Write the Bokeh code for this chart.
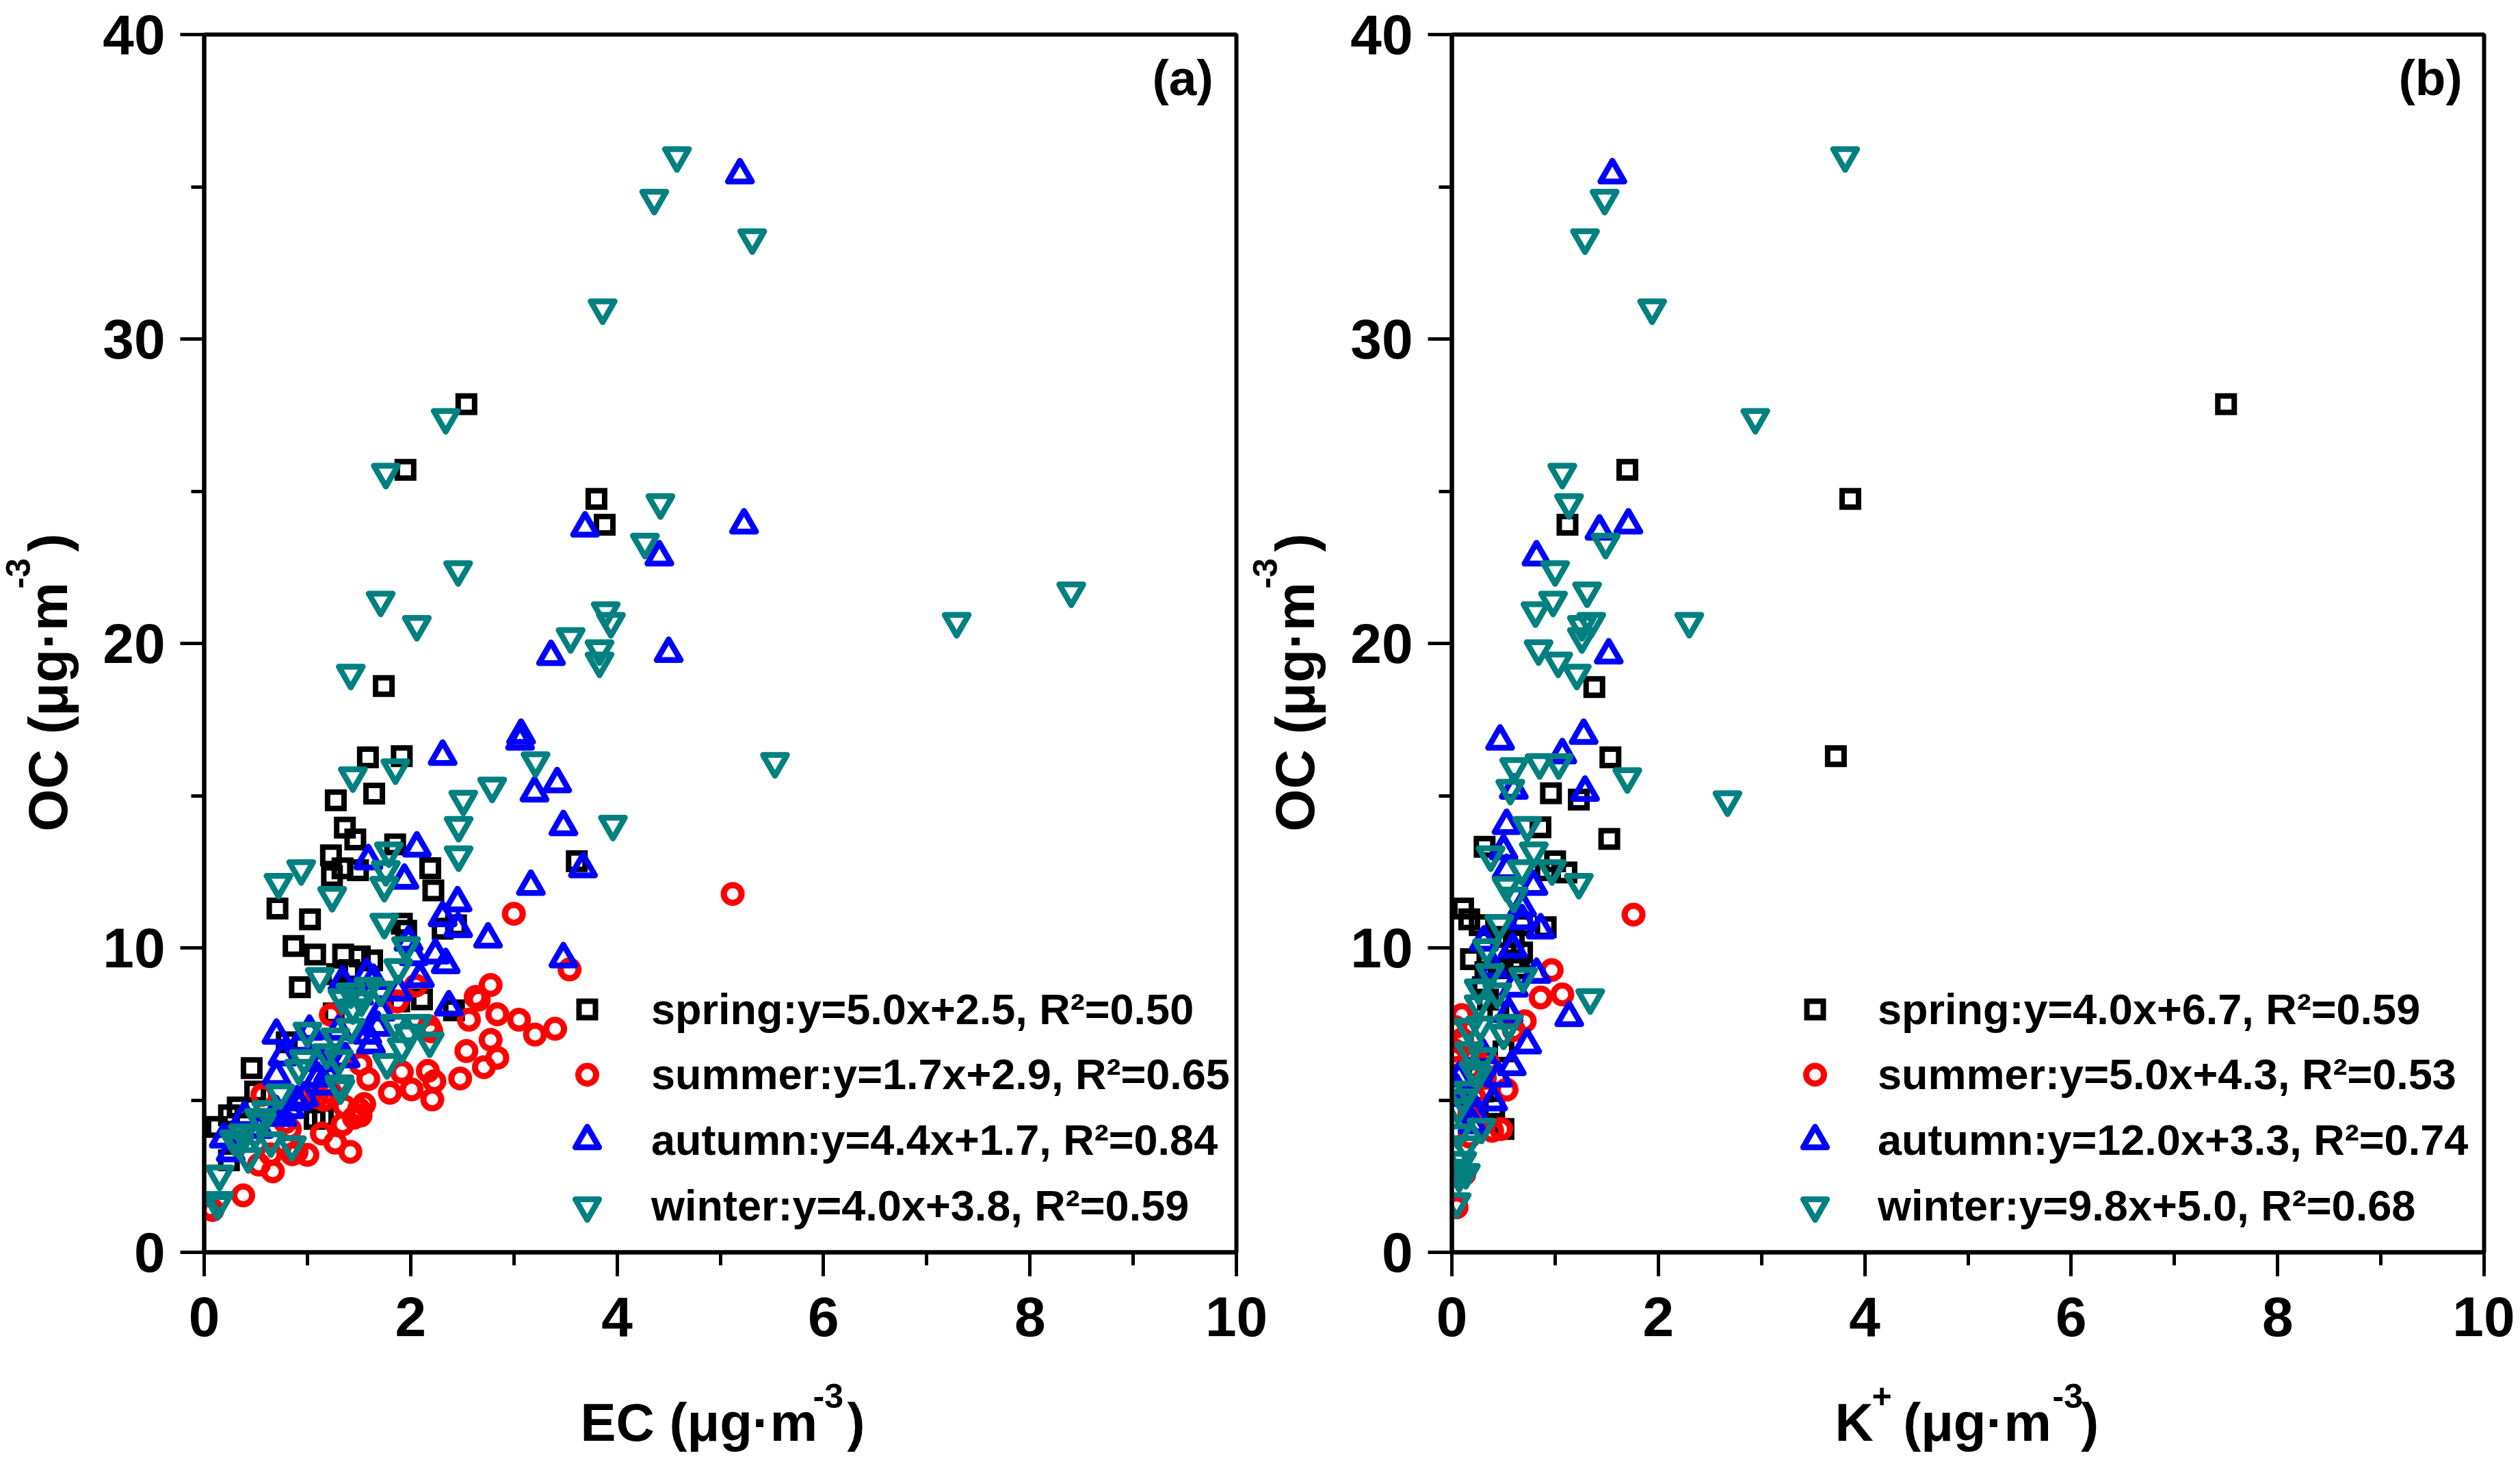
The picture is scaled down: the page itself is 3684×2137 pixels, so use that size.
from bokeh.plotting import figure
from bokeh.layouts import row
from bokeh.embed import file_html
from bokeh.resources import INLINE
from bokeh.models import FixedTicker, Label, Legend, LegendItem, Range1d
import math

# ---------- panel (a): OC vs EC ----------
a_spring_x = [2.54,1.95,3.80,3.88,1.74,1.586,1.914,1.647,1.275,1.363,1.464,1.85,1.228,2.19,1.34,1.238,1.49,2.22,0.71,1.025,1.915,1.957,2.31,2.44,0.866,1.075,1.346,1.508,1.627,0.927,1.288,1.407,2.11,1.89,2.42,1.255,0.8,0.46,0.494,0.325,0.24,0.122,1.07,1.15,0.24,3.61]
a_spring_y = [27.86,25.7,24.75,23.9,18.6,16.26,16.3,15.07,14.85,13.95,13.56,13.4,13.04,12.62,12.61,12.36,12.55,11.89,11.29,10.94,10.79,10.56,10.63,10.74,10.06,9.78,9.78,9.72,9.59,8.71,9.14,9.27,8.31,8.24,7.95,7.85,6.9,6.05,5.28,4.76,4.5,4.12,4.38,4.44,3.02,12.85]
a_summer_x = [5.12,3.0,3.54,2.775,2.66,2.63,2.565,2.84,3.05,3.205,3.40,2.775,2.54,2.84,2.71,2.48,2.167,2.23,1.915,2.01,2.21,1.59,1.515,1.80,2.05,1.87,2.2,1.55,1.515,1.34,1.14,1.27,1.416,0.83,0.853,0.895,0.665,0.53,0.643,0.378,0.08,0.06,1.09,1.16,1.226,1.03,1.36,0.786,0.563,1.227,2.18,1.45,1.5,1.0]
a_summer_y = [11.77,11.12,9.29,8.78,8.30,8.39,7.64,7.82,7.64,7.15,7.34,6.98,6.61,6.39,6.08,5.71,5.96,5.62,5.92,5.35,5.02,5.69,6.18,5.24,8.76,8.24,7.26,4.87,4.49,4.2,3.9,3.6,3.3,4.04,3.22,3.3,2.66,2.88,3.22,1.87,1.39,1.45,5.1,5.01,5.24,5.17,4.79,4.27,5.17,7.8,7.42,4.42,4.7,3.2]
a_autumn_x = [5.19,3.69,5.23,4.41,4.5,3.36,3.07,3.06,2.31,3.42,3.2,3.48,3.67,3.165,2.06,1.59,1.94,2.455,2.31,2.46,2.75,2.24,2.34,2.09,2.03,1.98,3.48,2.37,1.88,1.576,1.34,1.71,1.616,1.68,0.70,1.02,0.76,0.93,0.70,1.136,1.10,1.2,0.9,0.83,0.97,0.7,0.39,0.19,0.257,0.53,0.76,1.64,1.5,1.3,1.58,1.37,1.17]
a_autumn_y = [35.4,23.8,23.9,22.85,19.68,19.58,16.99,16.8,16.3,15.4,15.1,13.99,12.61,12.03,13.29,12.87,12.23,11.49,11.0,10.64,10.3,9.78,9.46,9.0,9.72,10.2,9.65,8.07,8.56,9.14,8.88,7.9,6.82,7.4,7.14,7.27,6.43,6.88,5.79,6.24,5.73,5.86,4.95,4.7,5.08,4.63,4.44,3.73,3.28,4.05,4.44,8.94,8.43,7.27,7.14,6.37,5.47]
a_winter_x = [4.58,4.36,5.31,3.86,2.34,1.76,4.42,4.27,2.46,1.71,8.40,7.29,3.89,3.94,2.06,3.55,3.83,3.83,1.42,5.53,3.21,2.79,2.51,2.465,3.96,2.465,1.853,1.44,0.94,0.72,1.24,1.79,1.76,1.745,1.745,1.955,1.88,1.12,1.593,1.42,1.34,1.525,1.71,1.847,2.066,2.185,1.98,1.915,1.77,1.42,1.27,1.0,0.967,0.917,1.187,1.305,1.32,1.31,0.737,0.6,0.53,0.375,0.29,0.426,0.646,0.85,0.149,0.149,0.129,0.34,0.49,0.56,1.44]
a_winter_y = [35.9,34.5,33.2,30.9,27.3,25.5,24.5,23.2,22.3,21.3,21.6,20.6,20.95,20.6,20.5,20.1,19.7,19.3,18.9,16.0,16.02,15.19,14.76,13.9,13.94,12.93,15.79,15.53,12.48,12.03,11.6,13.06,12.45,11.93,10.72,9.95,9.23,8.94,8.62,8.43,8.24,8.17,8.49,7.4,7.4,6.82,7.08,6.63,6.11,7.27,6.95,7.14,6.24,5.92,6.43,6.24,5.28,5.41,5.11,4.57,4.31,3.8,3.6,3.02,3.54,3.41,2.45,1.58,1.48,3.47,3.8,4.18,7.91]

# ---------- panel (b): OC vs K+ ----------
b_spring_x = [7.5,3.86,3.72,1.7,1.12,1.38,1.536,0.96,1.23,1.525,0.858,0.317,1.0,0.91,1.11,0.109,0.168,0.909,0.6,0.185,0.68,0.325,0.45,0.41,0.5,0.68,0.27,0.477,0.6,0.65,0.5,0.3,0.35,0.45,0.25,0.3]
b_spring_y = [27.86,24.75,16.3,25.7,23.9,18.57,16.26,15.08,14.87,13.58,13.96,13.32,12.84,12.55,12.48,11.29,10.94,10.68,10.36,9.63,9.85,9.2,9.33,4.76,4.05,10.75,10.75,10.36,9.59,9.33,6.6,8.71,8.3,7.9,6.05,5.28]
b_summer_x = [1.76,0.967,1.07,0.86,0.096,0.706,0.53,0.477,0.39,0.046,0.033,0.03,0.01,0.17,0.32,0.1,0.6,0.22,0.35,0.22,0.17,0.12]
b_summer_y = [11.09,9.27,8.47,8.37,7.79,7.59,5.34,4.05,3.99,1.48,7.4,6.63,6.37,4.57,5.73,7.0,7.3,6.37,6.24,5.08,3.8,2.57]
b_autumn_x = [1.555,1.71,1.43,0.82,1.52,0.467,1.277,1.07,1.29,0.6,0.53,0.5,0.53,0.79,0.68,0.68,0.86,0.31,0.59,0.4,0.82,0.6,1.137,0.55,0.73,0.58,0.45,0.4,0.22,0.07,0.046,0.3,0.2,0.15]
b_autumn_y = [35.4,23.9,23.7,22.85,19.63,16.8,16.99,16.35,15.12,15.19,14.03,13.2,12.55,12.03,11.33,10.9,10.6,10.2,9.97,9.33,9.14,8.69,7.72,7.85,6.82,6.11,5.73,4.95,4.57,5.73,5.34,6.5,4.2,5.1]
b_winter_x = [3.81,1.48,1.29,1.94,2.94,1.07,1.135,1.49,1.0,1.31,0.98,0.81,2.3,1.35,1.26,1.26,0.84,1.03,1.21,0.604,0.85,1.035,1.7,0.566,2.67,0.73,0.794,0.376,0.68,0.97,1.23,0.53,0.6,0.46,0.34,0.37,0.69,0.26,0.44,1.34,0.26,0.16,0.274,0.553,0.5,0.17,0.3,0.21,0.25,0.16,0.1,0.06,0.287,0.06,0.135,0.1,0.046,0.07,0.135,0.046]
b_winter_y = [35.9,34.5,33.2,30.9,27.3,25.5,24.5,23.2,22.3,21.6,21.3,20.95,20.6,20.6,20.5,20.1,19.7,19.3,18.9,15.83,15.96,15.96,15.5,15.12,14.74,13.9,13.06,12.93,12.48,12.48,12.03,11.93,11.58,10.68,9.88,9.07,8.94,8.56,8.43,8.24,8.04,7.27,7.34,7.4,7.08,6.5,6.31,5.86,5.73,5.21,4.95,4.63,3.99,3.8,3.41,2.9,2.64,2.4,2.5,1.54]

a_legend = ["spring:y=5.0x+2.5, R\u00b2=0.50", "summer:y=1.7x+2.9, R\u00b2=0.65", "autumn:y=4.4x+1.7, R\u00b2=0.84", "winter:y=4.0x+3.8, R\u00b2=0.59"]
b_legend = ["spring:y=4.0x+6.7, R\u00b2=0.59", "summer:y=5.0x+4.3, R\u00b2=0.53", "autumn:y=12.0x+3.3, R\u00b2=0.74", "winter:y=9.8x+5.0, R\u00b2=0.68"]
x_ticks = [0, 2, 4, 6, 8, 10]
x_minor = [1, 3, 5, 7, 9]
y_ticks = [0, 10, 20, 30, 40]
y_minor = [5, 15, 25, 35]

FONT = "Liberation Sans"
FRAME_W, FRAME_H = 1509, 1780
TOP, BOTTOM = 50, 299
FRAME_BOTTOM_PAGE = 1830
LEG_CENTERS = [1476, 1571, 1666, 1762]
STYLES = [("square", "black", 24, 8, "miter"), ("circle", "#FF0000", 26, 9, "round"),
          ("triangle", "#0000FF", 35, 8.5, "round"), ("inverted_triangle", "#008080", 35, 8.5, "round")]
# winter values were read at the middle of the outline; Bokeh centres the symbol on its centroid
SYMBOL_SHIFT = [0.0, 0.0, 0.0, 0.11]


def panel(frame_left_page, border_left, border_right, xs, ys, legend_labels, leg_x, leg_standoff):
    p = figure(output_backend="svg", toolbar_location=None,
               frame_width=FRAME_W, frame_height=FRAME_H,
               min_border_left=border_left, min_border_right=border_right,
               min_border_top=TOP, min_border_bottom=BOTTOM,
               x_range=Range1d(0, 10), y_range=Range1d(0, 40))
    p.grid.visible = False
    p.outline_line_color = "black"
    p.outline_line_width = 6

    for ax, major, minor, standoff in [(p.xaxis[0], x_ticks, x_minor, 30), (p.yaxis[0], y_ticks, y_minor, 22)]:
        ax.ticker = FixedTicker(ticks=major, minor_ticks=minor)
        ax.axis_line_width = 6
        ax.major_tick_line_width = 5
        ax.minor_tick_line_width = 5
        ax.major_tick_out = 35
        ax.major_tick_in = 0
        ax.minor_tick_out = 19
        ax.minor_tick_in = 0
        ax.major_label_text_font = FONT
        ax.major_label_text_font_style = "bold"
        ax.major_label_text_font_size = "82px"
        ax.major_label_text_color = "black"
        ax.major_label_standoff = standoff

    for (mk, col, sz, lw, lj), x, y, lab, cy, dy in zip(STYLES, xs, ys, legend_labels, LEG_CENTERS, SYMBOL_SHIFT):
        r = p.scatter(x, [v + dy for v in y], marker=mk, size=sz, fill_color=None, line_color=col,
                      line_width=lw, line_join=lj)
        gh = sz / 0.4
        h = max(gh, 70)
        leg = Legend(items=[LegendItem(label=lab, renderers=[r])],
                     location=(leg_x - frame_left_page, FRAME_BOTTOM_PAGE - cy - h / 2),
                     background_fill_alpha=0, border_line_alpha=0, padding=0, margin=0,
                     glyph_width=90, glyph_height=int(gh), label_standoff=leg_standoff, spacing=0,
                     label_text_font=FONT, label_text_font_style="bold", label_text_font_size="63px",
                     label_text_color="black", label_height=70)
        p.add_layout(leg, "center")
    return p


def lab(p, frame_left_page, txt, page_x, page_y, size, side, angle=0.0):
    p.add_layout(Label(x=(page_x - frame_left_page) / 150.9, y=(FRAME_BOTTOM_PAGE - page_y) / 44.5,
                       x_units="data", y_units="data", text=txt, angle=angle,
                       text_font=FONT, text_font_style="bold", text_font_size=f"{size}px",
                       text_color="black", text_baseline="alphabetic", text_align="left"), side)


pa = panel(298, 298, 140, [a_spring_x, a_summer_x, a_autumn_x, a_winter_x],
           [a_spring_y, a_summer_y, a_autumn_y, a_winter_y], a_legend, 813, 49)
pb = panel(2122, 175, 45, [b_spring_x, b_summer_x, b_autumn_x, b_winter_x],
           [b_spring_y, b_summer_y, b_autumn_y, b_winter_y], b_legend, 2608, 47)

GAP = "\u00a0\u00a0"
lab(pa, 298, "EC (\u03bcg\u00b7m" + GAP + ")", 848, 2078, 78, "below")
lab(pa, 298, "-3", 1188, 2040, 50, "below")
lab(pa, 298, "OC (\u03bcg\u00b7m" + GAP + ")", 70, 1215, 80, "left", math.pi / 2)
lab(pa, 298, "-3", 26, 860, 50, "left", math.pi / 2)
lab(pa, 298, "(a)", 1684, 113, 73, "center")
# the left title of panel (b) lies in the gutter, which belongs to figure (a)'s right side
lab(pa, 298, "OC (\u03bcg\u00b7m" + GAP + ")", 1893, 1215, 80, "right", math.pi / 2)
lab(pa, 298, "-3", 1849, 860, 50, "above", math.pi / 2)

lab(pb, 2122, "K" + GAP + "(\u03bcg\u00b7m" + GAP + ")", 2682, 2078, 78, "below")
lab(pb, 2122, "-3", 3000, 2040, 50, "below")
lab(pb, 2122, "+", 2736, 2040, 50, "right")
lab(pb, 2122, "(b)", 3506, 113, 73, "center")

layout = row(pa, pb, spacing=0)
open("out.html", "w").write(file_html(layout, INLINE))
